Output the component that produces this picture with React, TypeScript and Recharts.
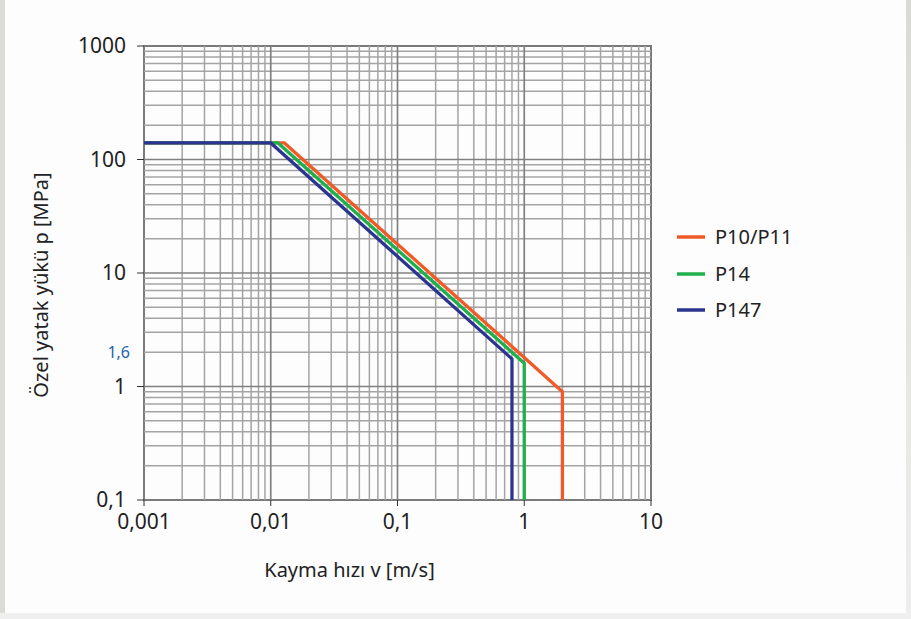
import React from "react";
import {
  LineChart,
  Line,
  XAxis,
  YAxis,
  Legend,
  ReferenceArea,
  ReferenceDot,
  ReferenceLine,
} from "recharts";

// ---- data ----
const seriesNames = ["P10/P11", "P14", "P147"];
const p10V = [0.001, 0.0128, 2, 2];
const p10P = [140, 140, 0.9, 0.1];
const p14V = [0.001, 0.0114, 1, 1];
const p14P = [140, 140, 1.6, 0.1];
const p147V = [0.001, 0.01, 0.8, 0.8];
const p147P = [140, 140, 1.75, 0.1];

const xTicks = [0.001, 0.01, 0.1, 1, 10];
const yTicks = [0.1, 1, 10, 100, 1000];
const markedPressure = 1.6;
const markedLabel = "1,6";

const xDecades = [0.001, 0.01, 0.1, 1];
const yDecades = [0.1, 1, 10, 100];
const multiples = [2, 3, 4, 5, 6, 7, 8, 9];

const toRows = (v: number[], p: number[]) => v.map((x, i) => ({ v: x, p: p[i] }));
const d10 = toRows(p10V, p10P);
const d14 = toRows(p14V, p14P);
const d147 = toRows(p147V, p147P);

const minorX: number[] = [];
xDecades.forEach((d) => multiples.forEach((m) => minorX.push(+(d * m).toPrecision(3))));
const minorY: number[] = [];
yDecades.forEach((d) => multiples.forEach((m) => minorY.push(+(d * m).toPrecision(3))));
const majorX = [0.01, 0.1, 1];
const majorY = [1, 10, 100];

const colors = ["#ef5a28", "#1fb04c", "#2b3590"];
const FONT = "'Noto Sans', sans-serif";
const fmt = (v: number) => String(v).replace(".", ",");

const XLabel = (props: any) => {
  const vb = props.viewBox;
  return (
    <text
      x={vb.x + vb.width / 2 - 48}
      y={vb.y + 77}
      textAnchor="middle"
      fontFamily={FONT}
      fontSize={20}
      fill="#222"
    >
      Kayma hızı v [m/s]
    </text>
  );
};

const YLabel = (props: any) => {
  const vb = props.viewBox;
  const cx = vb.x + 40;
  const cy = vb.y + vb.height / 2 + 12;
  return (
    <text
      x={cx}
      y={cy}
      transform={`rotate(-90, ${cx}, ${cy})`}
      textAnchor="middle"
      dominantBaseline="central"
      fontFamily={FONT}
      fontSize={20}
      fill="#222"
    >
      Özel yatak yükü p [MPa]
    </text>
  );
};

const LegendContent = (props: any) => {
  const payload = props.payload || [];
  return (
    <div style={{ fontFamily: FONT }}>
      {payload.map((e: any, i: number) => (
        <div key={i} style={{ display: "flex", alignItems: "center", height: 36.5 }}>
          <svg width={38} height={10} style={{ display: "block" }}>
            <line x1={0} y1={5} x2={28} y2={5} stroke={e.color} strokeWidth={3.5} />
          </svg>
          <span style={{ fontSize: 20, color: "#222", lineHeight: "20px" }}>{e.value}</span>
        </div>
      ))}
    </div>
  );
};

export default function App() {
  return (
    <div
      style={{
        position: "absolute",
        left: 0,
        top: 0,
        width: 911,
        height: 619,
        background: "#efefef",
      }}
    >
      <div style={{ position: "absolute", left: 0, top: 0, width: 5, height: 613, background: "#dadad6" }} />
      <div
        style={{
          position: "absolute",
          left: 906,
          top: 0,
          width: 5,
          height: 613,
          background: "linear-gradient(#d9d9d5, #eeeeee)",
        }}
      />
      <div style={{ position: "absolute", left: 5, top: 0, width: 901, height: 613, background: "#fdfdfd" }} />
      <div style={{ position: "absolute", left: 0, top: 0 }}>
        <LineChart
          width={911}
          height={619}
          margin={{ top: 46, right: 260, left: 0, bottom: 0 }}
        >
          <XAxis
            dataKey="v"
            type="number"
            scale="log"
            domain={[0.001, 10]}
            ticks={xTicks}
            allowDataOverflow
            tickFormatter={fmt}
            height={119}
            axisLine={false}
            tickSize={6}
            tickMargin={8}
            tickLine={{ stroke: "#333", strokeWidth: 1 }}
            tick={{ fontFamily: FONT, fontSize: 21, fill: "#222" }}
            label={<XLabel />}
          />
          <YAxis
            dataKey="p"
            type="number"
            scale="log"
            domain={[0.1, 1000]}
            ticks={yTicks}
            allowDataOverflow
            tickFormatter={fmt}
            width={144}
            axisLine={false}
            tickSize={7}
            tickMargin={11}
            tickLine={{ stroke: "#333", strokeWidth: 1 }}
            tick={{ fontFamily: FONT, fontSize: 21, fill: "#222" }}
            label={<YLabel />}
          />
          {minorX.map((v) => (
            <ReferenceLine key={"mx" + v} x={v} stroke="#a4a4a4" strokeWidth={1.5} />
          ))}
          {minorY.map((v) => (
            <ReferenceLine key={"my" + v} y={v} stroke="#a4a4a4" strokeWidth={1.5} />
          ))}
          {majorX.map((v) => (
            <ReferenceLine key={"Mx" + v} x={v} stroke="#808080" strokeWidth={1.7} />
          ))}
          {majorY.map((v) => (
            <ReferenceLine key={"My" + v} y={v} stroke="#808080" strokeWidth={1.7} />
          ))}
          <ReferenceArea
            x1={0.001}
            x2={10}
            y1={0.1}
            y2={1000}
            fill="none"
            stroke="#7a7a7a"
            strokeWidth={2}
            ifOverflow="visible"
          />
          <ReferenceDot
            x={0.001}
            y={markedPressure}
            r={0}
            fill="none"
            stroke="none"
            ifOverflow="visible"
            label={{
              value: markedLabel,
              position: "left",
              offset: 14,
              dy: -11,
              fill: "#1d64a8",
              fontSize: 16,
              fontFamily: FONT,
            }}
          />
          <Line data={d10} dataKey="p" name={seriesNames[0]} stroke={colors[0]} strokeWidth={3.3} dot={false} isAnimationActive={false} type="linear" />
          <Line data={d14} dataKey="p" name={seriesNames[1]} stroke={colors[1]} strokeWidth={3.3} dot={false} isAnimationActive={false} type="linear" />
          <Line data={d147} dataKey="p" name={seriesNames[2]} stroke={colors[2]} strokeWidth={3.3} dot={false} isAnimationActive={false} type="linear" />
          <Legend
            layout="horizontal"
            verticalAlign="middle"
            align="center"
            wrapperStyle={{ left: 677, top: 219, width: 200, height: 110 }}
            content={<LegendContent />}
          />
        </LineChart>
      </div>
    </div>
  );
}
